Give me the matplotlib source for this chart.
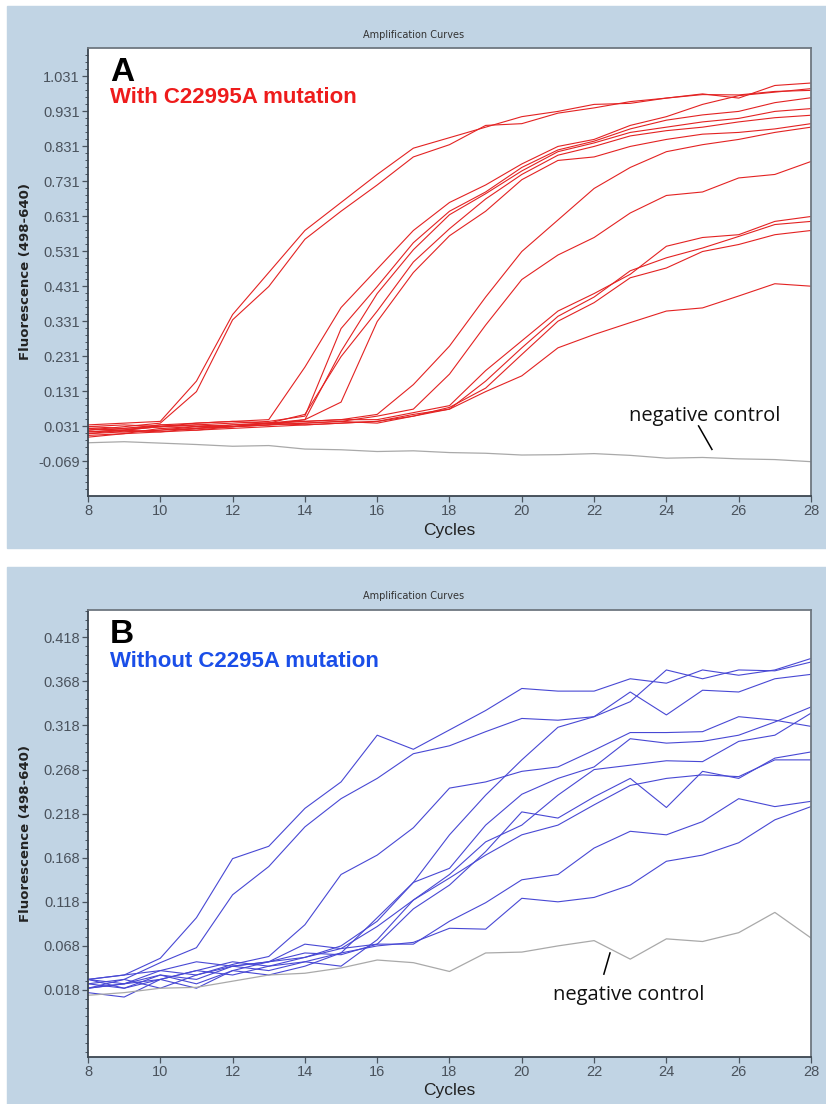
import numpy as np
import matplotlib
matplotlib.use("Agg")
import matplotlib.pyplot as plt
from matplotlib import font_manager
from matplotlib.patches import Rectangle
from matplotlib.ticker import FixedLocator

plt.rcParams['axes.unicode_minus'] = False

# Циклы ПЦР
cycles = list(range(8, 29))

# Панель A: кривые с мутацией C22995A
a_early1 = [0.035, 0.040, 0.045, 0.160, 0.350, 0.470, 0.590, 0.670, 0.750, 0.825, 0.855, 0.885, 0.915, 0.930, 0.950, 0.953, 0.968, 0.980, 0.968, 1.004, 1.011]
a_early2 = [0.020, 0.030, 0.040, 0.130, 0.335, 0.430, 0.565, 0.645, 0.720, 0.800, 0.835, 0.890, 0.895, 0.925, 0.940, 0.958, 0.968, 0.978, 0.977, 0.987, 0.990]
a_mid1 = [0.030, 0.025, 0.035, 0.040, 0.045, 0.050, 0.200, 0.370, 0.480, 0.590, 0.670, 0.720, 0.780, 0.830, 0.850, 0.890, 0.915, 0.950, 0.975, 0.985, 0.995]
a_mid2 = [0.010, 0.020, 0.030, 0.035, 0.040, 0.045, 0.060, 0.310, 0.430, 0.555, 0.645, 0.700, 0.770, 0.820, 0.845, 0.880, 0.905, 0.920, 0.930, 0.955, 0.969]
a_mid3 = [0.025, 0.015, 0.020, 0.030, 0.035, 0.040, 0.050, 0.245, 0.410, 0.535, 0.635, 0.695, 0.760, 0.815, 0.840, 0.870, 0.885, 0.900, 0.910, 0.930, 0.938]
a_mid4 = [0.000, 0.010, 0.025, 0.020, 0.030, 0.040, 0.065, 0.230, 0.360, 0.500, 0.595, 0.680, 0.750, 0.805, 0.830, 0.860, 0.875, 0.885, 0.900, 0.912, 0.919]
a_mid5 = [0.015, 0.020, 0.015, 0.025, 0.030, 0.035, 0.050, 0.100, 0.330, 0.470, 0.575, 0.645, 0.735, 0.790, 0.800, 0.830, 0.850, 0.865, 0.870, 0.880, 0.895]
a_late1 = [0.020, 0.025, 0.030, 0.035, 0.030, 0.040, 0.045, 0.050, 0.065, 0.150, 0.260, 0.400, 0.530, 0.620, 0.710, 0.770, 0.815, 0.835, 0.850, 0.870, 0.885]
a_late2 = [0.010, 0.015, 0.020, 0.025, 0.030, 0.035, 0.040, 0.045, 0.060, 0.080, 0.180, 0.320, 0.450, 0.520, 0.570, 0.640, 0.690, 0.700, 0.740, 0.750, 0.787]
a_last1 = [0.030, 0.035, 0.030, 0.040, 0.045, 0.040, 0.045, 0.050, 0.050, 0.070, 0.090, 0.190, 0.275, 0.360, 0.410, 0.465, 0.545, 0.570, 0.578, 0.616, 0.630]
a_last2 = [0.015, 0.020, 0.030, 0.025, 0.035, 0.040, 0.035, 0.040, 0.045, 0.065, 0.080, 0.160, 0.255, 0.345, 0.400, 0.475, 0.512, 0.540, 0.573, 0.607, 0.616]
a_last3 = [0.025, 0.020, 0.035, 0.030, 0.030, 0.035, 0.040, 0.045, 0.040, 0.060, 0.085, 0.140, 0.236, 0.331, 0.384, 0.455, 0.483, 0.530, 0.550, 0.578, 0.590]
a_last4 = [0.005, 0.010, 0.015, 0.020, 0.025, 0.030, 0.035, 0.040, 0.045, 0.060, 0.080, 0.130, 0.175, 0.255, 0.293, 0.327, 0.360, 0.369, 0.403, 0.438, 0.431]
a_negative = [-0.016, -0.013, -0.017, -0.021, -0.026, -0.024, -0.034, -0.036, -0.041, -0.039, -0.044, -0.046, -0.051, -0.050, -0.047, -0.052, -0.060, -0.058, -0.062, -0.064, -0.070]

# Панель B: кривые без мутации
b_curve1 = [0.030, 0.035, 0.054, 0.100, 0.167, 0.181, 0.224, 0.254, 0.307, 0.291, 0.313, 0.335, 0.360, 0.357, 0.357, 0.371, 0.366, 0.381, 0.375, 0.381, 0.394]
b_curve2 = [0.020, 0.030, 0.049, 0.066, 0.126, 0.158, 0.203, 0.235, 0.258, 0.286, 0.295, 0.311, 0.326, 0.324, 0.328, 0.356, 0.330, 0.358, 0.356, 0.371, 0.376]
b_curve3 = [0.030, 0.025, 0.040, 0.035, 0.047, 0.056, 0.092, 0.149, 0.171, 0.202, 0.247, 0.254, 0.266, 0.271, 0.290, 0.310, 0.310, 0.311, 0.328, 0.324, 0.317]
b_curve4 = [0.020, 0.025, 0.035, 0.030, 0.045, 0.050, 0.055, 0.068, 0.096, 0.140, 0.194, 0.239, 0.279, 0.316, 0.328, 0.345, 0.381, 0.371, 0.381, 0.380, 0.390]
b_curve5 = [0.025, 0.020, 0.030, 0.040, 0.035, 0.045, 0.050, 0.060, 0.100, 0.140, 0.156, 0.205, 0.240, 0.258, 0.271, 0.303, 0.298, 0.300, 0.307, 0.322, 0.339]
b_curve6 = [0.020, 0.025, 0.030, 0.040, 0.050, 0.045, 0.055, 0.065, 0.090, 0.120, 0.149, 0.186, 0.205, 0.239, 0.268, 0.273, 0.278, 0.277, 0.300, 0.307, 0.332]
b_curve7 = [0.030, 0.020, 0.035, 0.025, 0.040, 0.050, 0.060, 0.058, 0.070, 0.110, 0.137, 0.175, 0.220, 0.213, 0.237, 0.258, 0.225, 0.266, 0.258, 0.281, 0.288]
b_curve8 = [0.025, 0.030, 0.020, 0.035, 0.045, 0.040, 0.050, 0.045, 0.075, 0.120, 0.145, 0.171, 0.194, 0.205, 0.228, 0.250, 0.258, 0.262, 0.260, 0.279, 0.279]
b_curve9 = [0.030, 0.035, 0.040, 0.050, 0.045, 0.050, 0.070, 0.065, 0.070, 0.070, 0.096, 0.117, 0.143, 0.149, 0.179, 0.198, 0.194, 0.209, 0.235, 0.226, 0.232]
b_curve10 = [0.015, 0.010, 0.030, 0.020, 0.040, 0.035, 0.045, 0.060, 0.068, 0.072, 0.088, 0.087, 0.122, 0.118, 0.123, 0.137, 0.164, 0.171, 0.185, 0.211, 0.226]
b_negative = [0.012, 0.015, 0.020, 0.021, 0.028, 0.035, 0.037, 0.043, 0.052, 0.049, 0.039, 0.060, 0.061, 0.068, 0.074, 0.053, 0.076, 0.073, 0.083, 0.106, 0.077]

a_curves = [a_early1, a_early2, a_mid1, a_mid2, a_mid3, a_mid4, a_mid5,
            a_late1, a_late2, a_last1, a_last2, a_last3, a_last4]
b_curves = [b_curve1, b_curve2, b_curve3, b_curve4, b_curve5,
            b_curve6, b_curve7, b_curve8, b_curve9, b_curve10]

a_ticks = [-0.069, 0.031, 0.131, 0.231, 0.331, 0.431, 0.531, 0.631, 0.731, 0.831, 0.931, 1.031]
b_ticks = [0.018, 0.068, 0.118, 0.168, 0.218, 0.268, 0.318, 0.368, 0.418]
x_ticks = [8, 10, 12, 14, 16, 18, 20, 22, 24, 26, 28]

# узкий шрифт, если есть; иначе обычный Liberation Sans
installed = {f.name for f in font_manager.fontManager.ttflist}
if 'Liberation Sans Narrow' in installed:
    tick_font, tick_size, cyc_size = 'Liberation Sans Narrow', 12, 13.5
else:
    tick_font, tick_size, cyc_size = 'Liberation Sans', 10.5, 12.5

panel_blue = '#c1d4e4'
red = '#e32222'
blue = '#4848d4'
grey = '#a9a9a9'

fig = plt.figure(figsize=(8.26, 11.04), dpi=100)
fig.patches.append(Rectangle((7 / 826, 1 - 548 / 1104), 819 / 826, 542 / 1104,
                             transform=fig.transFigure, color=panel_blue, zorder=-10))
fig.patches.append(Rectangle((7 / 826, 0), 819 / 826, 1 - 567 / 1104,
                             transform=fig.transFigure, color=panel_blue, zorder=-10))


def setup_axes(rect, ylim, ticks, step, title_y):
    ax = fig.add_axes(rect)
    ax.set_facecolor('white')
    ax.set_xlim(8, 28)
    ax.set_ylim(*ylim)
    ax.set_xticks(x_ticks)
    ax.set_xticklabels([str(t) for t in x_ticks])
    ax.set_yticks(ticks)
    ax.set_yticklabels([f"{t:.3f}" for t in ticks])
    minor = np.arange(ticks[0] - 20 * step, ticks[-1] + 10 * step, step)
    minor = minor[(minor > ylim[0]) & (minor < ylim[1])]
    ax.yaxis.set_minor_locator(FixedLocator(minor))
    ax.tick_params(axis='both', which='major', length=4, width=0.9, color='#4a5560',
                   labelcolor='#4a525c', labelsize=tick_size, pad=2)
    ax.tick_params(axis='y', which='minor', length=2, width=0.7, color='#4a5560')
    for lab in ax.get_xticklabels() + ax.get_yticklabels():
        lab.set_family(tick_font)
    for side in ['left', 'bottom']:
        ax.spines[side].set_color('#3c4650')
        ax.spines[side].set_linewidth(1.3)
    for side in ['top', 'right']:
        ax.spines[side].set_color('#6e7780')
        ax.spines[side].set_linewidth(1.3)
    ax.set_xlabel('Cycles', family=tick_font, fontsize=cyc_size, color='#222222', va='center')
    ax.xaxis.set_label_coords(0.5, -0.076)
    ax.set_ylabel('Fluorescence (498-640)', family='DejaVu Sans', fontweight='bold',
                  fontsize=9.5, color='#222222', va='center')
    ax.yaxis.set_label_coords(-0.086, 0.5)
    fig.text(414 / 826, 1 - title_y / 1104, 'Amplification Curves', ha='center', va='center',
             fontsize=7, color='#333333')
    return ax


# Панель A
ax_a = setup_axes([88 / 826, 1 - 496 / 1104, 723 / 826, 448 / 1104], (-0.168, 1.111),
                  a_ticks, 0.02, 34.6)
for curve in a_curves:
    ax_a.plot(cycles, curve, color=red, lw=0.8)
ax_a.plot(cycles, a_negative, color=grey, lw=0.9)
ax_a.text(0.03, 0.945, 'A', transform=ax_a.transAxes, fontsize=24, fontweight='bold',
          family='Liberation Sans', ha='left', va='center', color='black')
ax_a.text(0.03, 0.89, 'With C22995A mutation', transform=ax_a.transAxes, fontsize=16,
          fontweight='bold', family='Liberation Sans', ha='left', va='center', color='#ee1c1c')
ax_a.text(25.07, 0.061, 'negative control', family='Open Sans', fontsize=14.5,
          ha='center', va='center', color='#111111')
ax_a.plot([24.89, 25.26], [0.032, -0.035], color='black', lw=1.1)

# Панель B
ax_b = setup_axes([88 / 826, 1 - 1057 / 1104, 723 / 826, 447 / 1104], (-0.058, 0.449),
                  b_ticks, 0.01, 595.7)
for curve in b_curves:
    ax_b.plot(cycles, curve, color=blue, lw=0.8)
ax_b.plot(cycles, b_negative, color=grey, lw=0.9)
ax_b.text(0.03, 0.945, 'B', transform=ax_b.transAxes, fontsize=24, fontweight='bold',
          family='Liberation Sans', ha='left', va='center', color='black')
ax_b.text(0.03, 0.885, 'Without C2295A mutation', transform=ax_b.transAxes, fontsize=16,
          fontweight='bold', family='Liberation Sans', ha='left', va='center', color='#1a4ee8')
ax_b.text(22.97, 0.012, 'negative control', family='Open Sans', fontsize=14.5,
          ha='center', va='center', color='#111111')
ax_b.plot([22.44, 22.27], [0.060, 0.036], color='black', lw=1.1)

fig.savefig('out.png', dpi=100, facecolor='white')
